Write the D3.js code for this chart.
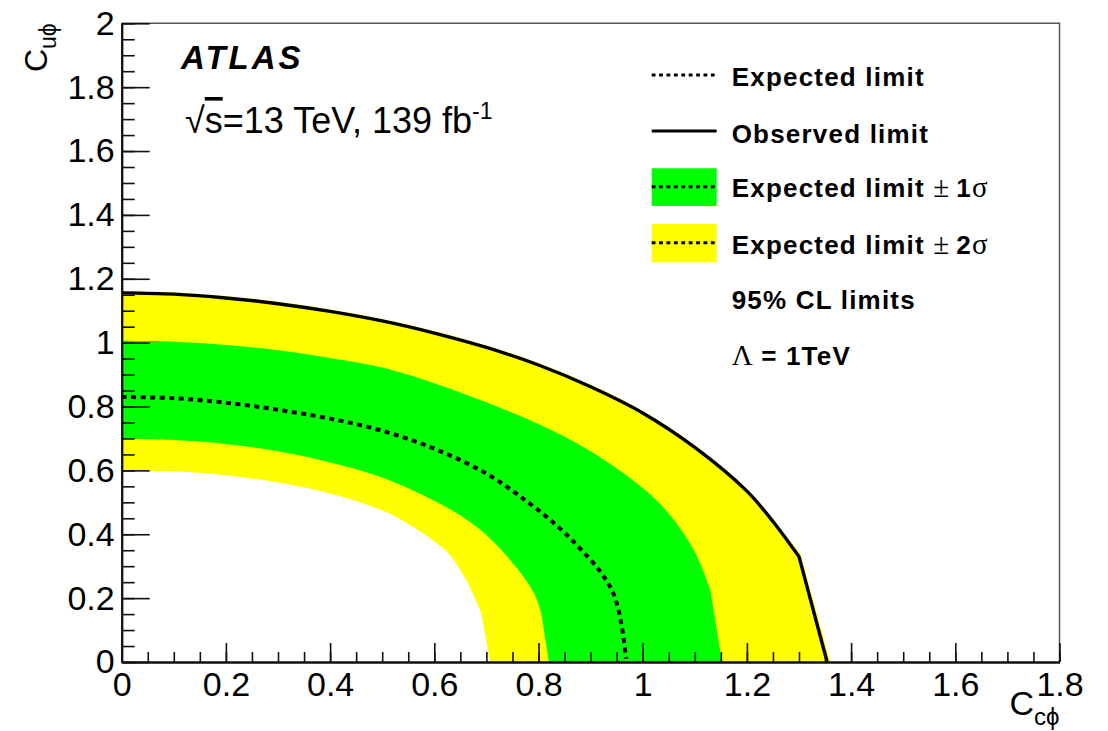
<!DOCTYPE html>
<html><head><meta charset="utf-8">
<script src="https://cdn.jsdelivr.net/npm/d3@7"></script>
<style>
body{margin:0;background:#fff}
text{font-family:"Liberation Sans",Arial,Helvetica,sans-serif;fill:#000}
</style>
</head><body>
<svg id="c" width="1108" height="731"></svg>
<script>
// ---- data ----
const xTickValues = [0, 0.2, 0.4, 0.6, 0.8, 1, 1.2, 1.4, 1.6, 1.8];
const yTickValues = [0, 0.2, 0.4, 0.6, 0.8, 1, 1.2, 1.4, 1.6, 1.8, 2];

// observed limit
const obsX = [0, 0.1, 0.2, 0.3, 0.4, 0.5, 0.6, 0.7, 0.8, 0.9, 1.0, 1.1, 1.2, 1.25, 1.3, 1.354];
const obsY = [1.156, 1.152, 1.14, 1.122, 1.098, 1.068, 1.03, 0.985, 0.93, 0.862, 0.78, 0.672, 0.535, 0.44, 0.33, 0];
// expected +2 sigma (outer yellow edge)
const up2X = [0, 0.1, 0.2, 0.3, 0.4, 0.5, 0.6, 0.7, 0.8, 0.9, 1.0, 1.1, 1.2, 1.25, 1.303, 1.36];
const up2Y = [1.162, 1.158, 1.146, 1.128, 1.104, 1.074, 1.036, 0.991, 0.936, 0.868, 0.786, 0.678, 0.542, 0.447, 0.337, 0];
// expected +1 sigma (outer green edge)
const up1X = [0, 0.1, 0.2, 0.3, 0.4, 0.5, 0.6, 0.7, 0.8, 0.9, 1.0, 1.05, 1.1, 1.13, 1.152];
const up1Y = [1.006, 1.003, 0.993, 0.976, 0.952, 0.922, 0.873, 0.813, 0.745, 0.66, 0.545, 0.465, 0.345, 0.225, 0];
// expected limit
const expX = [0, 0.1, 0.2, 0.3, 0.4, 0.5, 0.6, 0.7, 0.78, 0.84, 0.88, 0.92, 0.945, 0.96, 0.968];
const expY = [0.83, 0.826, 0.812, 0.79, 0.762, 0.724, 0.668, 0.59, 0.5, 0.42, 0.355, 0.28, 0.21, 0.11, 0.01];
// expected -1 sigma (inner green edge)
const dn1X = [0, 0.1, 0.2, 0.3, 0.4, 0.5, 0.6, 0.68, 0.74, 0.79, 0.805, 0.82];
const dn1Y = [0.699, 0.695, 0.683, 0.66, 0.625, 0.578, 0.505, 0.425, 0.33, 0.22, 0.155, 0];
// expected -2 sigma (inner yellow edge)
const dn2X = [0, 0.1, 0.2, 0.3, 0.4, 0.5, 0.55, 0.6, 0.63, 0.66, 0.69, 0.707];
const dn2Y = [0.6, 0.597, 0.585, 0.562, 0.528, 0.475, 0.432, 0.378, 0.335, 0.26, 0.155, 0];

// ---- drawing ----
const svg = d3.select("#c");
const X0 = 121.7, X1 = 1059.5, Y0 = 662, Y1 = 23.3;
const x = d3.scaleLinear().domain([0, 1.8]).range([X0, X1]);
const y = d3.scaleLinear().domain([0, 2]).range([Y0, Y1]);

const pts = (xs, ys) => xs.map((v, i) => [v, ys[i]]);
const smooth = d3.line().x(d => x(d[0])).y(d => y(d[1])).curve(d3.curveCatmullRom.alpha(0.5));
const straight = d3.line().x(d => x(d[0])).y(d => y(d[1]));
// smooth arc, then a straight last segment down to the axis (contour knee)
function contour(xs, ys, kneeAtEnd) {
  const p = pts(xs, ys);
  if (!kneeAtEnd) return smooth(p);
  const n = p.length;
  return smooth(p.slice(0, n - 1)) + straight(p.slice(n - 2)).replace(/^M[^LC]*/, "");
}

svg.append("defs").append("clipPath").attr("id", "clip")
  .append("rect").attr("x", X0).attr("y", Y1).attr("width", X1 - X0).attr("height", Y0 - Y1);
const plot = svg.append("g").attr("clip-path", "url(#clip)");

function area(xs, ys, color) {
  plot.append("path").attr("d", contour(xs, ys, true) + `L${x(0)},${y(0)}Z`)
    .attr("fill", color).attr("stroke", "none");
}
area(up2X, up2Y, "#ffff00");
area(up1X, up1Y, "#00ff00");
area(dn1X, dn1Y, "#ffff00");
area(dn2X, dn2Y, "#ffffff");

plot.append("path").attr("d", contour(expX, expY, false)).attr("fill", "none")
  .attr("stroke", "#000").attr("stroke-width", 4).attr("stroke-dasharray", "5,4.5");
plot.append("path").attr("d", contour(obsX, obsY, true)).attr("fill", "none")
  .attr("stroke", "#000").attr("stroke-width", 3.4).attr("stroke-linejoin", "round");

// frame (top & right)
svg.append("path").attr("d", `M${X0},${Y1}H${X1}V${Y0}`).attr("fill", "none")
  .attr("stroke", "#555").attr("stroke-width", 1.5);

// axes
const fmt = d3.format("~g");
const gx = svg.append("g").attr("transform", `translate(0,${Y0})`)
  .call(d3.axisBottom(x).tickValues(x.ticks(36)).tickSizeInner(-10).tickSizeOuter(0).tickFormat(""));
const gx2 = svg.append("g").attr("transform", `translate(0,${Y0})`)
  .call(d3.axisBottom(x).tickValues(xTickValues).tickSizeInner(-19).tickSizeOuter(0).tickPadding(10).tickFormat(fmt));
const gy = svg.append("g").attr("transform", `translate(${X0},0)`)
  .call(d3.axisLeft(y).tickValues(y.ticks(40)).tickSizeInner(-13).tickSizeOuter(0).tickFormat(""));
const gy2 = svg.append("g").attr("transform", `translate(${X0},0)`)
  .call(d3.axisLeft(y).tickValues(yTickValues).tickSizeInner(-28).tickSizeOuter(0).tickPadding(7).tickFormat(fmt));
[gx, gx2, gy, gy2].forEach(g => {
  g.selectAll("line").attr("stroke", "#111").attr("stroke-width", 1.6);
  g.select(".domain").attr("stroke", "#111").attr("stroke-width", 2);
  g.selectAll("text").attr("font-size", 34).attr("fill", "#000")
    .style("font-family", '"Liberation Sans",Arial,sans-serif');
});

// axis titles
svg.append("text").attr("x", X1).attr("y", 715).attr("text-anchor", "end").attr("font-size", 34)
  .text("C").append("tspan").attr("dy", 10).attr("font-size", 24).text("cϕ");
svg.append("text").attr("transform", `translate(47,${Y1}) rotate(-90)`).attr("text-anchor", "end")
  .attr("font-size", 32).text("C").append("tspan").attr("dy", 9).attr("font-size", 23).text("uϕ");

// ATLAS label
svg.append("text").attr("x", 181).attr("y", 69).attr("font-size", 33).attr("font-weight", "bold")
  .attr("font-style", "italic").attr("letter-spacing", 3).text("ATLAS");
const e = svg.append("text").attr("x", 185).attr("y", 133).attr("font-size", 36);
e.append("tspan").text("√");
e.append("tspan").style("text-decoration", "overline").text("s");
e.append("tspan").text("=13 TeV, 139 fb");
e.append("tspan").attr("dy", -14).attr("font-size", 23).text("-1");

// legend
const LX0 = 651.7, LX1 = 716.7, TX = 731.7;
const legBold = (yy, parts) => {
  const t = svg.append("text").attr("x", TX).attr("y", yy).attr("font-size", 26)
    .attr("font-weight", "bold").attr("letter-spacing", 1.2);
  parts.forEach(p => {
    const s = t.append("tspan").text(p[0]);
    if (p[1]) s.attr("font-weight", "normal").attr("font-size", 29)
      .style("font-family", '"Liberation Serif","DejaVu Serif",serif').attr("letter-spacing", 0);
  });
};
// rows
svg.append("line").attr("x1", LX0).attr("x2", LX1).attr("y1", 75).attr("y2", 75)
  .attr("stroke", "#000").attr("stroke-width", 3).attr("stroke-dasharray", "3.8,3.6");
legBold(86, [["Expected limit"]]);
svg.append("line").attr("x1", LX0).attr("x2", LX1).attr("y1", 131).attr("y2", 131)
  .attr("stroke", "#000").attr("stroke-width", 3);
legBold(142.7, [["Observed limit"]]);
svg.append("rect").attr("x", LX0).attr("y", 168.3).attr("width", LX1 - LX0).attr("height", 37.7).attr("fill", "#00ff00");
svg.append("line").attr("x1", LX0).attr("x2", LX1).attr("y1", 186.7).attr("y2", 186.7)
  .attr("stroke", "#000").attr("stroke-width", 3).attr("stroke-dasharray", "3.8,3.6");
legBold(196.7, [["Expected limit "], ["± ", 1], ["1"], ["σ", 1]]);
svg.append("rect").attr("x", LX0).attr("y", 224).attr("width", LX1 - LX0).attr("height", 38.3).attr("fill", "#ffff00");
svg.append("line").attr("x1", LX0).attr("x2", LX1).attr("y1", 242.7).attr("y2", 242.7)
  .attr("stroke", "#000").attr("stroke-width", 3).attr("stroke-dasharray", "3.8,3.6");
legBold(254, [["Expected limit "], ["± ", 1], ["2"], ["σ", 1]]);
legBold(309.3, [["95% CL limits"]]);
legBold(365, [["Λ", 1], [" = 1TeV"]]);
</script>
</body></html>
